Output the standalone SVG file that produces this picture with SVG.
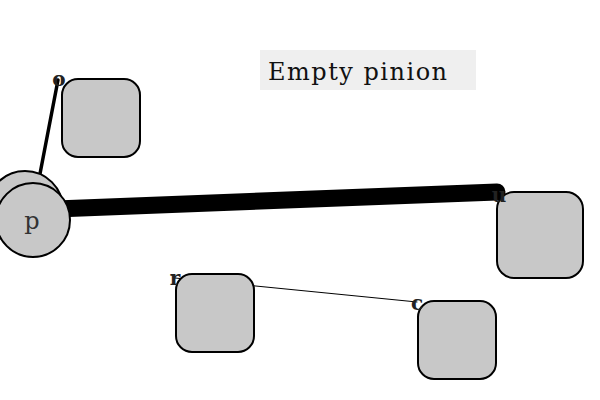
<svg xmlns="http://www.w3.org/2000/svg" width="600" height="400" viewBox="0 0 600 400">
<style>
.box{fill:#c8c8c8;stroke:#000;stroke-width:2}
.lbl{font-family:"DejaVu Serif","Liberation Serif",serif;font-weight:bold;font-size:20px;fill:#222}
.title{font-family:"DejaVu Serif","Liberation Serif",serif;font-size:24px;fill:#111;letter-spacing:1.5px}
</style>
<rect width="600" height="400" fill="#fff"/>
<g id="title">
<rect x="260" y="50" width="216" height="40" fill="#efefef"/>
<text class="title" x="268" y="80">Empty pinion</text>
</g>
<g id="connectors" stroke="#000" fill="none" stroke-linecap="round">
<line x1="30" y1="210" x2="497" y2="192" stroke-width="17"/>
<line x1="58" y1="80" x2="34" y2="205" stroke-width="3.5"/>
<line x1="175" y1="278" x2="417" y2="302" stroke-width="1"/>
</g>
<g id="node-p">
<circle cx="25" cy="209" r="38" class="box"/>
<circle cx="33" cy="220" r="37" class="box"/>
<text x="32" y="229" text-anchor="middle" font-family="DejaVu Serif, Liberation Serif, serif" font-size="24" fill="#333">p</text>
</g>
<g id="node-o">
<rect x="62" y="79" width="78" height="78" rx="16" class="box"/>
<text class="lbl" x="59" y="86" text-anchor="middle">o</text>
</g>
<g id="node-u">
<rect x="497" y="192" width="86" height="86" rx="17" class="box"/>
<text class="lbl" x="499" y="202" text-anchor="middle">u</text>
</g>
<g id="node-r">
<rect x="176" y="274" width="78" height="78" rx="16" class="box"/>
<text class="lbl" x="175" y="285" text-anchor="middle">r</text>
</g>
<g id="node-c">
<rect x="418" y="301" width="78" height="78" rx="16" class="box"/>
<text class="lbl" x="417" y="310" text-anchor="middle">c</text>
</g>
</svg>
